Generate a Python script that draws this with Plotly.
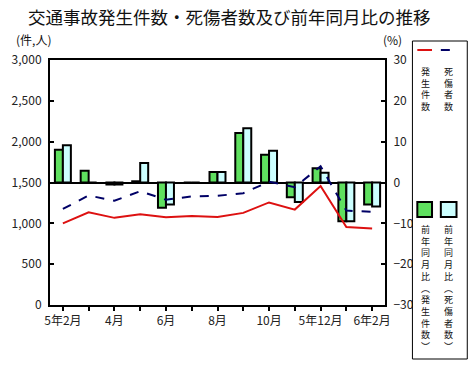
import plotly.graph_objects as go

# ---------------- data ----------------
months = ["5年2月", "3月", "4月", "5月", "6月", "7月", "8月", "9月", "10月", "11月", "5年12月", "6年1月", "6年2月"]
tick_text = ["5年2月", "", "4月", "", "6月", "", "8月", "", "10月", "", "5年12月", "", "6年2月"]
accidents = [1000, 1135, 1067, 1111, 1075, 1090, 1078, 1128, 1256, 1168, 1458, 954, 938]
casualties = [1176, 1341, 1277, 1393, 1289, 1329, 1337, 1369, 1510, 1442, 1699, 1156, 1140]
acc_yoy = [8.0, 2.9, -0.5, 0.3, -6.2, 0.0, 2.6, 12.1, 6.8, -3.6, 3.5, -9.5, -5.4]
cas_yoy = [9.1, 0.0, -0.5, 4.8, -5.4, 0.0, 2.6, 13.3, 7.8, -4.8, 2.4, -9.5, -5.9]

title_text = "交通事故発生件数・死傷者数及び前年同月比の推移"
legend_lines = ["発生件数", "死傷者数"]
legend_bars = ["前年同月比︵発生件数︶", "前年同月比︵死傷者数︶"]

# ---------------- layout geometry ----------------
W, H = 472, 365
L, R, T, B = 43, 385, 60, 305
FONT = "Noto Sans CJK JP"
GREEN = "#5fe05f"
CYAN = "#ccffff"
RED = "#dd1111"
NAVY = "#000066"


def px(x):
    return (x - L) / (R - L)


def py(y):
    return (B - y) / (B - T)


def vertical(s):
    return "<br>".join(list(s))


fig = go.Figure()
fig.add_trace(go.Bar(x=months, y=acc_yoy, yaxis="y", marker=dict(color=GREEN, line=dict(color="black", width=2)),
                     name="前年同月比（発生件数）"))
fig.add_trace(go.Bar(x=months, y=cas_yoy, yaxis="y", marker=dict(color=CYAN, line=dict(color="black", width=2)),
                     name="前年同月比（死傷者数）"))
fig.add_trace(go.Scatter(x=months, y=accidents, yaxis="y2", mode="lines", line=dict(color=RED, width=2),
                         name="発生件数"))
fig.add_trace(go.Scatter(x=months, y=casualties, yaxis="y2", mode="lines",
                         line=dict(color=NAVY, width=2, dash="dash"), name="死傷者数"))

shapes = []
annotations = []

# title & unit labels
annotations.append(dict(text=title_text, x=px(18), y=py(17), xref="paper", yref="paper", xanchor="left",
                        yanchor="middle", showarrow=False, font=dict(family=FONT, size=17.5, color="#111")))
annotations.append(dict(text="(件,人)", x=px(6), y=py(40), xref="paper", yref="paper", xanchor="left",
                        yanchor="middle", showarrow=False, font=dict(family=FONT, size=12, color="#111")))
annotations.append(dict(text="(%)", x=px(381), y=py(39), xref="paper", yref="paper", xanchor="left",
                        yanchor="middle", showarrow=False, font=dict(family=FONT, size=12, color="#111")))

# legend box
shapes.append(dict(type="rect", xref="paper", yref="paper", x0=px(413), x1=px(469), y0=py(41), y1=py(359),
                   line=dict(color="black", width=1), fillcolor="white"))
# line samples
shapes.append(dict(type="line", xref="paper", yref="paper", x0=px(418), x1=px(433), y0=py(50), y1=py(50),
                   line=dict(color=RED, width=2)))
shapes.append(dict(type="line", xref="paper", yref="paper", x0=px(442), x1=px(459), y0=py(50), y1=py(50),
                   line=dict(color=NAVY, width=2, dash="dash")))
# square samples
shapes.append(dict(type="rect", xref="paper", yref="paper", x0=px(418), x1=px(433), y0=py(217), y1=py(202),
                   line=dict(color="black", width=2), fillcolor=GREEN))
shapes.append(dict(type="rect", xref="paper", yref="paper", x0=px(442), x1=px(458), y0=py(217), y1=py(202),
                   line=dict(color="black", width=2), fillcolor=CYAN))

col_x = [426, 450]
for ci in range(2):
    annotations.append(dict(text=vertical(legend_lines[ci]), x=px(col_x[ci]), y=py(63), xref="paper",
                            yref="paper", xanchor="center", yanchor="top", showarrow=False,
                            font=dict(family=FONT, size=9, color="#111")))
    annotations.append(dict(text=vertical(legend_bars[ci]), x=px(col_x[ci]), y=py(221), xref="paper",
                            yref="paper", xanchor="center", yanchor="top", showarrow=False,
                            font=dict(family=FONT, size=9, color="#111")))

axis_common = dict(showline=True, linecolor="black", linewidth=2, showgrid=False,
                   tickfont=dict(family=FONT, size=12, color="#222"), tickcolor="black", tickwidth=2)

fig.update_layout(
    width=W, height=H,
    margin=dict(l=L, r=W - R, t=T, b=H - B),
    paper_bgcolor="white", plot_bgcolor="white",
    showlegend=False,
    barmode="group", bargap=0.38, bargroupgap=0,
    xaxis=dict(type="category", tickmode="array", tickvals=months, ticktext=tick_text,
               ticks="outside", ticklen=4, mirror=True, **axis_common),
    yaxis=dict(side="right", range=[-30, 30], dtick=10, tick0=0, ticks="inside", ticklen=4,
               zeroline=True, zerolinecolor="black", zerolinewidth=2, ticklabelstandoff=4, **axis_common),
    yaxis2=dict(side="left", overlaying="y", range=[0, 3000], dtick=500, tick0=0, tickformat=",",
                ticks="inside", ticklen=4, zeroline=False, ticklabelstandoff=4, **axis_common),
    shapes=shapes, annotations=annotations,
)

fig.write_html("out.html")
